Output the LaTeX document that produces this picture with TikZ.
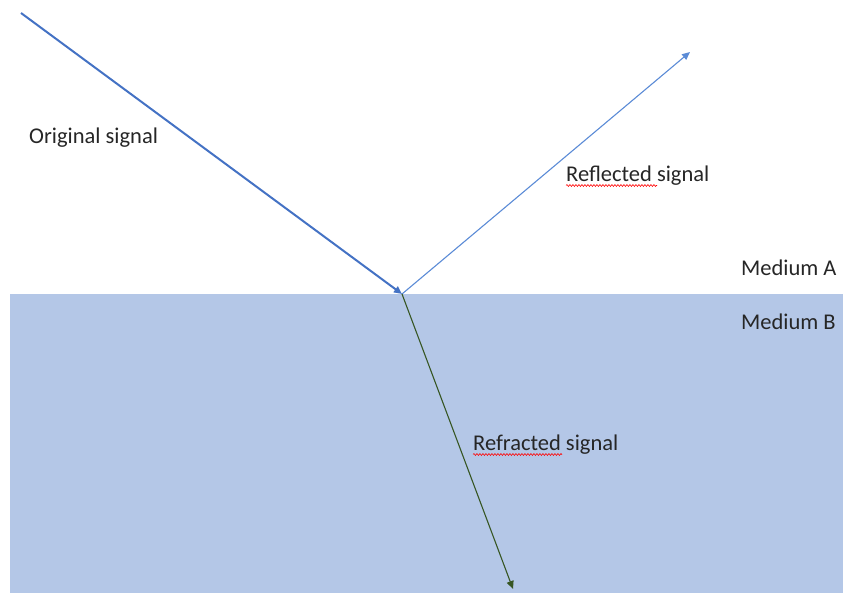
\documentclass[tikz,border=0pt]{standalone}
\usepackage{fontspec}
\setmainfont{Carlito}
\usetikzlibrary{arrows.meta,decorations.pathmorphing}
\definecolor{mediumB}{HTML}{B4C7E7}
\definecolor{rayblue}{HTML}{4472C4}
\definecolor{rayblueL}{HTML}{5B8BD6}
\definecolor{raygreen}{HTML}{375623}
\definecolor{txt}{HTML}{262626}
\tikzset{
  ray/.style={-{Triangle[length=8pt,width=7pt]}},
  lbl/.style={anchor=base west, inner sep=0pt, text=txt, font=\fontsize{22.5}{25}\selectfont},
  spell/.style={red, line width=0.6pt, decorate, decoration={snake, amplitude=0.9pt, segment length=3pt}}
}
\begin{document}
\begin{tikzpicture}[x=1pt,y=-1pt]
  \useasboundingbox (0,0) rectangle (843,593);
  % lower medium
  \fill[mediumB] (10,294) rectangle (843,593);
  % ray end points
  \coordinate (src) at (21,13);
  \coordinate (hit) at (402,294);
  \coordinate (refl) at (690,52);
  \coordinate (refr) at (513,589);
  \draw[ray, rayblue, line width=2pt] (src) -- (hit);
  \draw[ray, rayblueL, line width=1.1pt] (hit) -- (refl);
  \draw[ray, raygreen, line width=1.1pt] (hit) -- (refr);
  % labels
  \node[lbl] (orig) at (29,143.5) {Original signal};
  \node[lbl] (reflL) at (566,181.5) {Reflected signal};
  \node[lbl] (medA) at (741,276) {Medium A};
  \node[lbl] (medB) at (741,330) {Medium B};
  \node[lbl] (refrL) at (473,450.5) {Refracted signal};
  % spell-check underlines
  \draw[spell] (566,185.5) -- (657,185.5);
  \draw[spell] (473,454.5) -- (562,454.5);
\end{tikzpicture}
\end{document}
